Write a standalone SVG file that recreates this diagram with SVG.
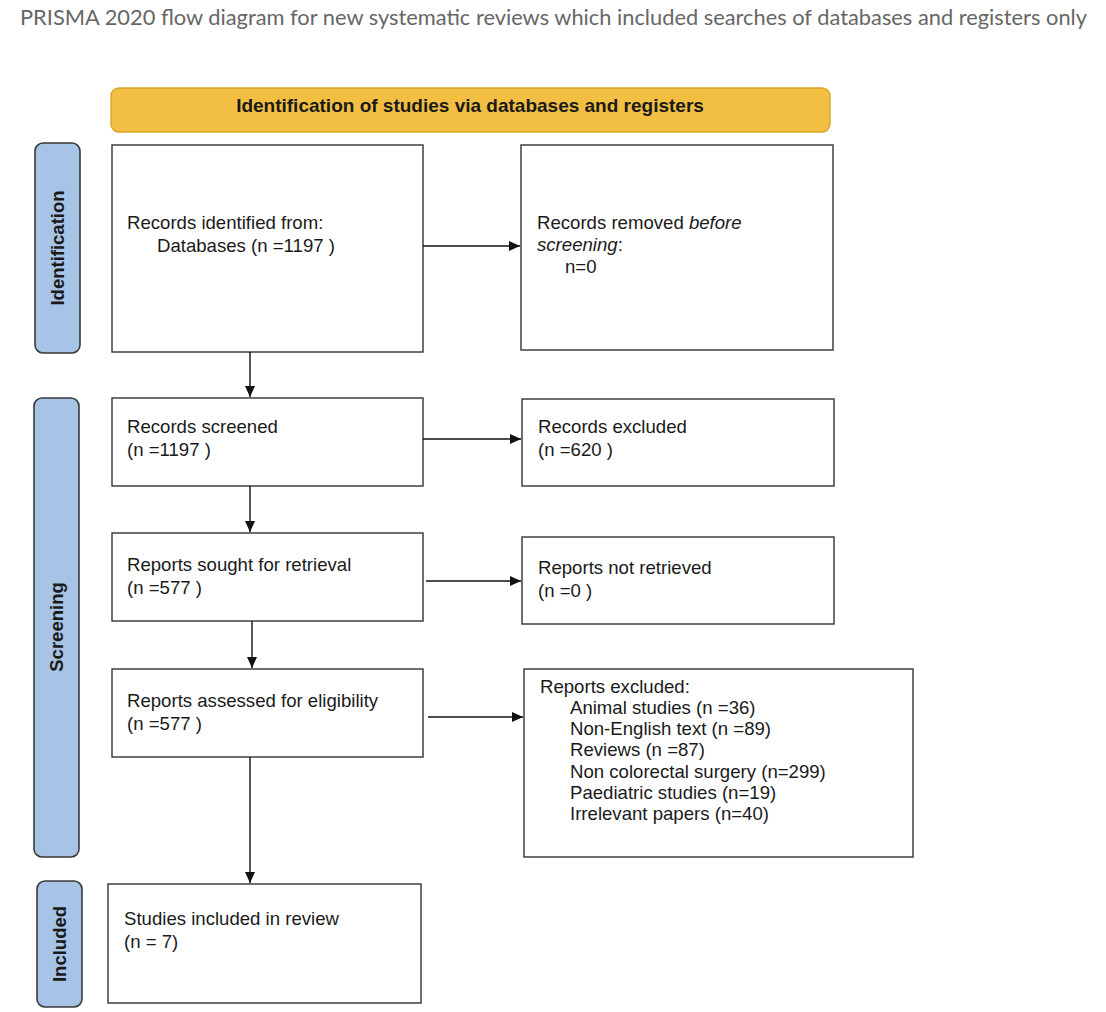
<svg xmlns="http://www.w3.org/2000/svg" width="1106" height="1012" viewBox="0 0 1106 1012">
<style>
.box{fill:#fff;stroke:#333;stroke-width:1.4}
.side{fill:#A7C3E5;stroke:#3a3a3a;stroke-width:1.6}
.t{font-family:"Liberation Sans",Arial,sans-serif;font-size:18.6px;fill:#1a1a1a}
.st{font-family:"Liberation Sans",Arial,sans-serif;font-size:18.5px;font-weight:bold;fill:#1a1a1a;text-anchor:middle}
.ln{stroke:#111;stroke-width:1.4;fill:none;marker-end:url(#ah)}
</style>
<defs>
<marker id="ah" markerWidth="12" markerHeight="12" refX="11" refY="6" orient="auto" markerUnits="userSpaceOnUse">
<path d="M0,1 L11,6 L0,11 Z" fill="#111"/>
</marker>
</defs>
<rect width="1106" height="1012" fill="#fff"/>
<text x="20" y="25" font-family="Lato,'Open Sans','Liberation Sans',sans-serif" font-size="22" fill="#666" textLength="1067" lengthAdjust="spacingAndGlyphs">PRISMA 2020 flow diagram for new systematic reviews which included searches of databases and registers only</text>

<g id="header">
<rect x="111" y="88" width="719" height="44" rx="8" fill="#F2BF43" stroke="#D9A526" stroke-width="1.4"/>
<text x="470" y="112" font-family="'Liberation Sans',Arial,sans-serif" font-size="19" font-weight="bold" fill="#1a1a1a" text-anchor="middle">Identification of studies via databases and registers</text>
</g>

<g id="side-identification">
<rect class="side" x="35" y="143" width="45" height="210" rx="8"/>
<text class="st" transform="translate(64,248) rotate(-90)">Identification</text>
</g>
<g id="side-screening">
<rect class="side" x="34" y="398" width="45" height="459" rx="8"/>
<text class="st" transform="translate(63,627) rotate(-90)">Screening</text>
</g>
<g id="side-included">
<rect class="side" x="37" y="881" width="45" height="126" rx="8"/>
<text class="st" transform="translate(66,944) rotate(-90)">Included</text>
</g>

<g id="records-identified">
<rect class="box" x="112" y="145" width="311" height="207"/>
<text class="t" x="127" y="229">Records identified from:</text>
<text class="t" x="157" y="252">Databases (n =1197 )</text>
</g>
<g id="records-removed">
<rect class="box" x="521" y="145" width="312" height="205"/>
<text class="t" x="537" y="229">Records removed <tspan font-style="italic">before</tspan></text>
<text class="t" x="537" y="251"><tspan font-style="italic">screening</tspan>:</text>
<text class="t" x="565" y="273">n=0</text>
</g>
<g id="records-screened">
<rect class="box" x="112" y="398" width="311" height="88"/>
<text class="t" x="127" y="433">Records screened</text>
<text class="t" x="127" y="456">(n =1197 )</text>
</g>
<g id="records-excluded">
<rect class="box" x="522" y="399" width="312" height="87"/>
<text class="t" x="538" y="433">Records excluded</text>
<text class="t" x="538" y="456">(n =620 )</text>
</g>
<g id="reports-sought">
<rect class="box" x="112" y="533" width="311" height="88"/>
<text class="t" x="127" y="571">Reports sought for retrieval</text>
<text class="t" x="127" y="594">(n =577 )</text>
</g>
<g id="reports-not-retrieved">
<rect class="box" x="522" y="537" width="312" height="87"/>
<text class="t" x="538" y="574">Reports not retrieved</text>
<text class="t" x="538" y="597">(n =0 )</text>
</g>
<g id="reports-assessed">
<rect class="box" x="112" y="669" width="311" height="88"/>
<text class="t" x="127" y="707">Reports assessed for eligibility</text>
<text class="t" x="127" y="730">(n =577 )</text>
</g>
<g id="reports-excluded">
<rect class="box" x="524" y="669" width="389" height="188"/>
<text class="t" x="540" y="693">Reports excluded:</text>
<text class="t" x="570" y="714">Animal studies (n =36)</text>
<text class="t" x="570" y="735">Non-English text (n =89)</text>
<text class="t" x="570" y="756">Reviews (n =87)</text>
<text class="t" x="570" y="778">Non colorectal surgery (n=299)</text>
<text class="t" x="570" y="799">Paediatric studies (n=19)</text>
<text class="t" x="570" y="820">Irrelevant papers (n=40)</text>
</g>
<g id="studies-included">
<rect class="box" x="108" y="884" width="313" height="119"/>
<text class="t" x="124" y="925">Studies included in review</text>
<text class="t" x="124" y="948">(n = 7)</text>
</g>

<g id="connectors">
<line class="ln" x1="423" y1="246" x2="520" y2="246"/>
<line class="ln" x1="250" y1="352" x2="250" y2="397"/>
<line class="ln" x1="423" y1="439" x2="521" y2="439"/>
<line class="ln" x1="250" y1="486" x2="250" y2="532"/>
<line class="ln" x1="426" y1="581" x2="521" y2="581"/>
<line class="ln" x1="252" y1="621" x2="252" y2="668"/>
<line class="ln" x1="428" y1="717" x2="523" y2="717"/>
<line class="ln" x1="250" y1="757" x2="250" y2="883"/>
</g>
</svg>
